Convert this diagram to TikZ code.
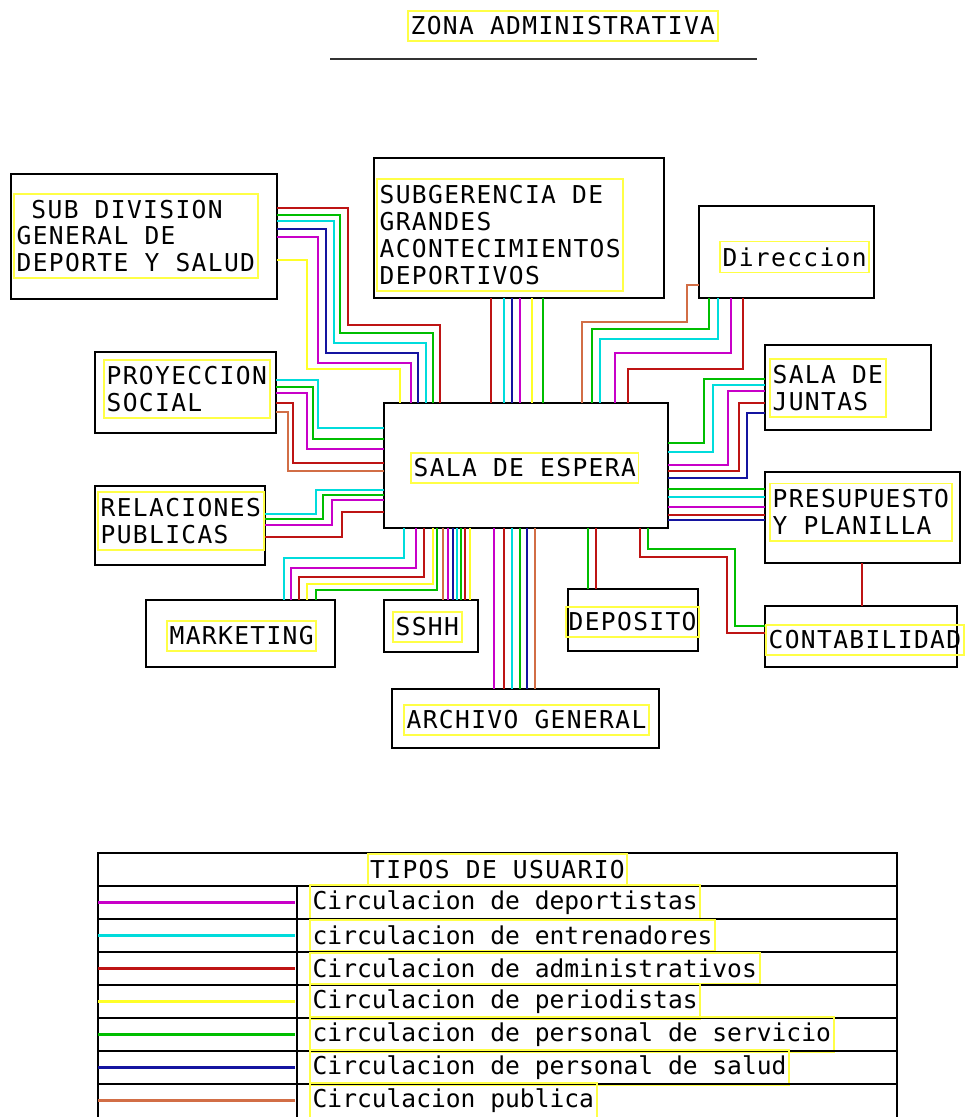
\documentclass[tikz,border=0pt]{standalone}
\usepackage{fontspec}
\newfontfamily\cadfont{DejaVu Sans Mono}[LetterSpace=5.5]
\newfontfamily\legfont{DejaVu Sans Mono}
\usetikzlibrary{fit}
\definecolor{cdep}{RGB}{200,0,200}
\definecolor{cent}{RGB}{0,220,220}
\definecolor{cadm}{RGB}{190,20,20}
\definecolor{cper}{RGB}{255,255,40}
\definecolor{cser}{RGB}{0,190,0}
\definecolor{csal}{RGB}{20,20,160}
\definecolor{cpub}{RGB}{210,110,70}
\definecolor{ctag}{RGB}{255,255,70}

\begin{document}
\begin{tikzpicture}[
  x=0.02cm, y=-0.02cm,
  font=\cadfont\fontsize{14}{15.3}\selectfont,
  room/.style={rectangle, draw, line width=1.1pt, inner sep=0pt, outer sep=0pt},
  tag/.style={draw=ctag, line width=1.1pt, inner xsep=1.5pt, inner ysep=3.4pt, align=left, anchor=west, outer sep=0pt},
  flow/.style={line width=1.1pt},
  dep/.style={flow, draw=cdep},
  ent/.style={flow, draw=cent},
  adm/.style={flow, draw=cadm},
  per/.style={flow, draw=cper},
  ser/.style={flow, draw=cser},
  sal/.style={flow, draw=csal},
  pub/.style={flow, draw=cpub}
]
\useasboundingbox (0,0) rectangle (965,1117);

\node[tag] (title) at (408,26) {ZONA ADMINISTRATIVA};
\coordinate (ruleA) at (330,59);
\coordinate (ruleB) at (757,59);
\draw[line width=1.6pt, black!80] (ruleA) -- (ruleB);

\node[room, fit={(11,174) (277,299)}] (subdiv) {};
\node[tag] (subdivt) at (14,236) {\hphantom{S}SUB DIVISION\\GENERAL DE\\DEPORTE Y SALUD};
\node[room, fit={(374,158) (664,298)}] (subger) {};
\node[tag] (subgert) at (377,235) {SUBGERENCIA DE\\GRANDES\\ACONTECIMIENTOS\\DEPORTIVOS};
\node[room, fit={(699,206) (874,298)}] (direc) {};
\node[tag] (direct) at (720,257) {Direccion};
\node[room, fit={(95,352) (276,433)}] (proyec) {};
\node[tag] (proyect) at (104,389) {PROYECCION\\SOCIAL};
\node[room, fit={(765,345) (931,430)}] (juntas) {};
\node[tag] (juntast) at (770,388) {SALA DE\\JUNTAS};
\node[room, fit={(384,403) (668,528)}] (sala) {};
\node[tag] (salat) at (411,468) {SALA DE ESPERA};
\node[room, fit={(95,486) (265,565)}] (relac) {};
\node[tag] (relact) at (98,521) {RELACIONES\\PUBLICAS};
\node[room, fit={(765,472) (960,563)}] (presup) {};
\node[tag] (presupt) at (770,512) {PRESUPUESTO\\Y PLANILLA};
\node[room, fit={(765,606) (957,667)}] (contab) {};
\node[tag] (contabt) at (766,640) {CONTABILIDAD};
\node[room, fit={(146,600) (335,667)}] (market) {};
\node[tag] (markett) at (167,636) {MARKETING};
\node[room, fit={(384,600) (478,652)}] (sshh) {};
\node[tag] (sshht) at (393,627) {SSHH};
\node[room, fit={(568,589) (698,651)}] (deposito) {};
\node[tag] (depositot) at (566,622) {DEPOSITO};
\node[room, fit={(392,689) (659,748)}] (archivo) {};
\node[tag] (archivot) at (404,720) {ARCHIVO GENERAL};

\draw[adm] (subdiv.east |- 0,208) -| (348,325) -| (sala.north -| 440,0);
\draw[ser] (subdiv.east |- 0,215) -| (340,333) -| (sala.north -| 433,0);
\draw[ent] (subdiv.east |- 0,221) -| (334,343) -| (sala.north -| 426,0);
\draw[sal] (subdiv.east |- 0,229) -| (326,353) -| (sala.north -| 418,0);
\draw[dep] (subdiv.east |- 0,237) -| (318,363) -| (sala.north -| 411,0);
\draw[per] (subdiv.east |- 0,260) -| (307,369) -| (sala.north -| 400,0);

\foreach \c/\a/\x/\b in {ent/380/318/428, ser/387/313/439, dep/393/307/449, adm/403/293/463, pub/412/288/471}
  \draw[\c] (proyec.east |- 0,\a) -| (\x,\b) -- (sala.west |- 0,\b);
\foreach \c/\a/\x/\b in {ent/514/316/490, ser/519/323/495, dep/525/332/500, adm/537/342/512}
  \draw[\c] (relac.east |- 0,\a) -| (\x,\b) -- (sala.west |- 0,\b);
\foreach \c/\a/\y/\b in {ent/404/558/284, dep/416/568/291, adm/424/577/299, per/433/584/307, ser/437/590/316}
  \draw[\c] (sala.south -| \a,0) |- (\b,\y) -- (market.north -| \b,0);
\foreach \c/\x in {pub/443, dep/448, sal/453, ent/457, ser/461, adm/465, per/470}
  \draw[\c] (sala.south -| \x,0) -- (sshh.north -| \x,0);
\foreach \c/\x in {dep/494, adm/504, ent/512, ser/520, sal/527, pub/535}
  \draw[\c] (sala.south -| \x,0) -- (archivo.north -| \x,0);
\foreach \c/\x in {ser/588, adm/596}
  \draw[\c] (sala.south -| \x,0) -- (deposito.north -| \x,0);
\draw[adm] (sala.south -| 640,0) |- (727,557) |- (contab.west |- 0,633);
\draw[ser] (sala.south -| 648,0) |- (735,549) |- (contab.west |- 0,626);
\draw[adm] (presup.south -| 862,0) -- (contab.north -| 862,0);
\foreach \c/\y in {ser/489, ent/497, dep/507, adm/515, sal/520}
  \draw[\c] (sala.east |- 0,\y) -- (presup.west |- 0,\y);
\foreach \c/\a/\x/\b in {ser/443/704/379, ent/452/713/385, dep/465/728/391, adm/471/739/403, sal/478/747/413}
  \draw[\c] (sala.east |- 0,\a) -| (\x,\b) -- (juntas.west |- 0,\b);
\foreach \c/\x in {adm/491, ent/504, sal/512, dep/520, per/532, ser/543}
  \draw[\c] (sala.north -| \x,0) -- (subger.south -| \x,0);
\draw[pub] (sala.north -| 582,0) |- (687,322) |- (direc.west |- 0,285);
\foreach \c/\x/\y/\b in {ser/592/329/709, ent/600/339/718, dep/615/353/731, adm/628/369/743}
  \draw[\c] (sala.north -| \x,0) |- (\b,\y) -- (direc.south -| \b,0);

\node[room, fit={(98,853) (897,886)}] (leghead) {};
\node[tag, anchor=center] (legtitle) at (leghead.center) {TIPOS DE USUARIO};
\foreach \i/\c/\t in {1/dep/Circulacion de deportistas, 2/ent/circulacion de entrenadores, 3/adm/Circulacion de administrativos, 4/per/Circulacion de periodistas, 5/ser/circulacion de personal de servicio, 6/sal/Circulacion de personal de salud, 7/pub/Circulacion publica}{
  \node[room, fit={(98,{853+33*\i}) (897,{886+33*\i+4*(\i>6)})}] (row\i) {};
  \draw[\c, line width=1.4pt] (row\i.west |- 0,{869.5+33*\i}) -- (295,{869.5+33*\i});
  \node[tag, font=\legfont\fontsize{14}{15.3}\selectfont] (use\i) at (310,{869.5+33*\i}) {\t};
}
\draw[line width=1.1pt] (row1.north -| 297,0) -- (row7.south -| 297,0);
\end{tikzpicture}
\end{document}
